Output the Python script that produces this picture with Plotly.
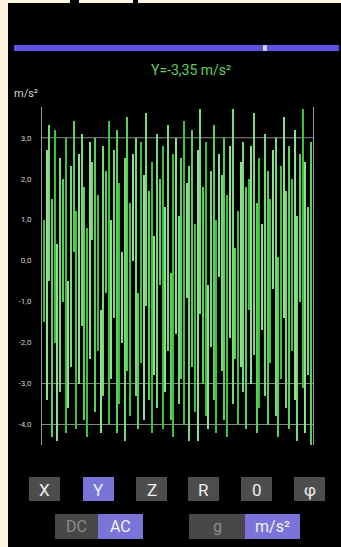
import plotly.graph_objects as go

# ---------------- data (per-sample min / max of the trace, m/s²) ----------------
highs = [1.0, 2.7, 3.3, 1.5, 3.2, 0.4, 2.5, 2.0, 3.0, -0.5, 2.3, 3.4, 1.2, 2.6, 3.1, 1.8,
         0.8, 2.9, 2.4, 3.0, 1.6, -1.2, 2.8, 2.2, 3.4, 1.0, 2.7, 3.2, 1.9, 0.2, 2.5, 3.5,
         1.4, 2.6, 3.0, -0.8, 2.9, 2.1, 3.6, 1.7, 2.4, 0.6, 3.1, 2.0, 2.8, 1.3, 3.3, -0.3,
         2.6, 3.0, 1.1, 2.5, 3.4, 1.9, 2.3, 3.2, 0.9, 2.7, 3.7, 1.8, 2.9, -0.6, 2.2, 3.3,
         1.0, 2.6, 2.1, 3.0, 1.6, 2.8, 3.7, 0.3, 1.2, 2.4, 2.9, 1.8, 2.0, 2.8, 3.6, 1.4,
         2.5, 0.9, 3.1, 2.2, 1.5, 2.7, 3.0, 0.1, 2.3, 3.5, 1.7, 2.8, 2.0, 3.2, 1.1, 2.6,
         3.7, 2.4, 1.3, 2.9]
lows = [-1.5, -3.4, -0.5, -4.3, -2.0, -4.4, -3.2, -1.0, -4.2, -3.6, -2.6, 0.2, -4.1, -3.0,
        -1.6, -3.9, -4.3, -2.4, 0.5, -3.7, -2.2, -4.2, -3.3, -0.8, -4.0, -2.9, -1.4, -4.2,
        -3.5, -2.0, -4.4, -2.7, -3.8, 0.0, -3.3, -4.1, -2.5, -3.9, -1.1, -3.4, -4.2, -2.8,
        -3.6, -0.6, -4.1, -3.2, -2.2, -3.9, -4.3, -1.8, -3.5, -2.9, -4.0, -0.9, -4.4, -2.6,
        -3.7, -4.4, -1.3, -3.0, -3.8, -4.1, -2.1, -3.4, -4.2, -0.4, -2.7, -3.9, -4.3, -1.9,
        -3.5, -2.4, -4.0, -2.6, -3.2, -4.1, -1.2, -3.0, -2.3, -4.2, -3.6, -1.7, -3.3, -4.0,
        -2.5, -0.7, -3.8, -4.3, -2.9, -1.4, -3.6, -4.1, -2.2, -3.4, -4.4, -1.0, -3.1, -4.2,
        -2.8, -4.5]
y_tick_vals = [3, 2, 1, 0, -1, -2, -3, -4]
y_tick_text = ["3,0", "2,0", "1,0", "0,0", "-1,0", "-2,0", "-3,0", "-4,0"]
grid_vals = [3, -3, -4]
readout = "Y=-3,35 m/s²"
unit_label = "m/s²"
axis_buttons = ["X", "Y", "Z", "R", "0", "φ"]
axis_active = [False, True, False, False, False, False]
mode_buttons = ["DC", "AC", "g", "m/s²"]
mode_active = [False, True, False, True]

# ---------------- helpers ----------------
W, H = 341, 547
def px(x): return x / W
def py(y): return 1 - y / H

n = len(highs)
idx = list(range(n))
greens = ["#3cc23c", "#58cf58", "#2a9a34", "#7ad87a", "#44b844", "#90de90", "#35ad3d"]
colors = [greens[(i * 5 + i // 4) % len(greens)] for i in idx]

fig = go.Figure()
fig.add_trace(go.Bar(x=idx, y=[h - l for h, l in zip(highs, lows)], base=lows,
                     width=0.5, marker=dict(color=colors, line_width=0),
                     hoverinfo="skip", showlegend=False))

shapes = []
shapes.append(dict(type="rect", xref="paper", yref="paper", x0=px(8), x1=px(341),
                   y0=py(547), y1=py(3), fillcolor="#000000", line_width=0, layer="below"))
for x0, x1 in [(70, 79), (133, 138)]:
    shapes.append(dict(type="rect", xref="paper", yref="paper", x0=px(x0), x1=px(x1),
                       y0=py(3), y1=py(0), fillcolor="#000000", line_width=0, layer="below"))
shapes.append(dict(type="rect", xref="paper", yref="paper", x0=px(14), x1=px(339),
                   y0=py(51), y1=py(45), fillcolor="#5a52e6", line_width=0))
shapes.append(dict(type="rect", xref="paper", yref="paper", x0=px(263), x1=px(267),
                   y0=py(51), y1=py(45), fillcolor="#d2ccff", line_width=0))
for g in grid_vals:
    shapes.append(dict(type="line", xref="paper", yref="y", x0=px(42), x1=px(313),
                       y0=g, y1=g, line=dict(color="#8a8a8a", width=1), layer="below"))

annotations = [
    dict(text=readout, x=px(191), y=py(70), xref="paper", yref="paper", showarrow=False,
         font=dict(family="Roboto", size=14, color="#5fcf5f"), xanchor="center", yanchor="middle"),
    dict(text=unit_label, x=px(12), y=py(93), xref="paper", yref="paper", showarrow=False,
         font=dict(family="Roboto", size=11, color="#d8d8d8"), xanchor="left", yanchor="middle"),
]

GRAY, PURPLE = "#4d4d4d", "#7b74d8"
row1_left = [29, 83, 136, 188, 241, 294]
for lbl, act, x0 in zip(axis_buttons, axis_active, row1_left):
    shapes.append(dict(type="rect", xref="paper", yref="paper", x0=px(x0), x1=px(x0 + 31),
                       y0=py(501), y1=py(477), fillcolor=PURPLE if act else GRAY, line_width=0))
    annotations.append(dict(text=lbl, x=px(x0 + 15.5), y=py(489.5), xref="paper", yref="paper",
                            showarrow=False, xanchor="center", yanchor="middle",
                            font=dict(family="Roboto", size=17, color="#eeeeee")))
row2_pos = [(55, 98), (98, 143), (189, 245), (245, 300)]
for lbl, act, (x0, x1) in zip(mode_buttons, mode_active, row2_pos):
    shapes.append(dict(type="rect", xref="paper", yref="paper", x0=px(x0), x1=px(x1),
                       y0=py(539), y1=py(514), fillcolor=PURPLE if act else "#4a474a", line_width=0))
    annotations.append(dict(text=lbl, x=px((x0 + x1) / 2), y=py(526.5), xref="paper", yref="paper",
                            showarrow=False, xanchor="center", yanchor="middle",
                            font=dict(family="Roboto", size=16,
                                      color="#f2f2f2" if act else "#8c8c8c")))

fig.update_layout(
    width=W, height=H, margin=dict(l=0, r=0, t=0, b=0),
    paper_bgcolor="#fdf5e1", plot_bgcolor="rgba(0,0,0,0)",
    shapes=shapes, annotations=annotations, showlegend=False, bargap=0,
    xaxis=dict(domain=[px(42), px(313)], range=[-0.8, n - 0.2], visible=False, fixedrange=True),
    yaxis=dict(domain=[py(445), py(107)], range=[-4.5, 3.75], tickvals=y_tick_vals,
               ticktext=y_tick_text, showgrid=False, zeroline=False, showline=True,
               mirror=True, linecolor="#9a9a9a", linewidth=1, ticks="",
               ticklabelstandoff=8,
               tickfont=dict(family="Roboto", size=8, color="#d0d0d0"), fixedrange=True),
)

fig.write_html("out.html", config={"displayModeBar": False},
               post_script="document.body.style.margin='0';document.body.style.overflow='hidden';")
